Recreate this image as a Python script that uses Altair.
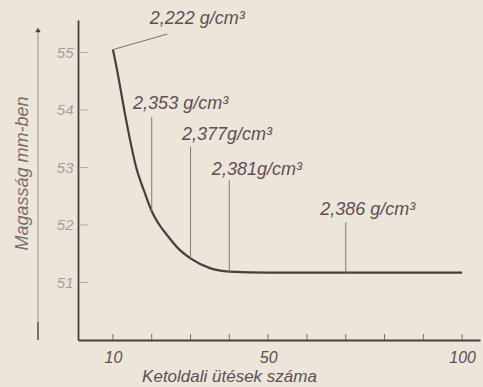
import altair as alt
import pandas as pd

# curve: height (mm) vs number of blows
blows = [10, 11, 12, 13, 14, 16, 18, 20, 22, 24, 27, 30, 35, 40, 50, 60, 70, 80, 90, 100]
height = [55.05, 54.72, 54.35, 53.97, 53.62, 53.0, 52.6, 52.24, 52.0, 51.82, 51.58,
          51.42, 51.25, 51.19, 51.17, 51.17, 51.17, 51.17, 51.17, 51.17]

# density marker lines
mark_blows = [20, 30, 40, 70]
mark_top = [53.88, 53.36, 52.78, 52.05]
mark_bottom = [52.24, 51.42, 51.19, 51.17]

# density labels
label_text = ["2,222 g/cm³", "2,353 g/cm³", "2,377g/cm³", "2,381g/cm³", "2,386 g/cm³"]
label_x = [19.5, 15.2, 27.8, 35.5, 63.4]
label_y = [55.58, 54.10, 53.57, 52.96, 52.26]

# leader line for first label
leader_x = [10, 24]
leader_y = [55.05, 55.32]

x_tick_values = [10, 20, 30, 40, 50, 60, 70, 80, 90, 100]
x_label_values = [10, 50, 100]
y_tick_values = [51, 52, 53, 54, 55]

BG = "#ece5da"
INK = "#4d3b3e"
TEXT = "#5e4f52"
FAINT = "#a99f98"
FONT = "Liberation Sans"

xs = alt.Scale(domain=[1, 104.6], nice=False, zero=False)
ys = alt.Scale(domain=[50, 55.565], nice=False, zero=False)

x_axis = alt.Axis(
    values=x_label_values, title="Ketoldali ütések száma", ticks=False, grid=False,
    domainColor=INK, domainWidth=1.8, labelFont=FONT, labelFontStyle="italic",
    labelFontSize=16, labelColor=TEXT, labelPadding=9, labelFlush=False,
    titleFont=FONT, titleFontStyle="italic", titleFontWeight="normal",
    titleFontSize=17, titleColor=TEXT, titleX=151, titleY=36,
    titleAlign="center", titleBaseline="middle")
y_axis = alt.Axis(
    values=y_tick_values, title="Magasság mm-ben", ticks=False, grid=False,
    domainColor=INK, domainWidth=1.8, labelFont=FONT, labelFontStyle="italic",
    labelFontSize=15, labelColor=FAINT, labelPadding=5, labelFlush=False,
    titleFont=FONT, titleFontStyle="italic", titleFontWeight="normal",
    titleFontSize=18, titleColor="#7a6b6c", titleX=-56, titleY=153,
    titleAlign="center", titleBaseline="middle")

curve_df = pd.DataFrame({"x": blows, "y": height})
marks_df = pd.DataFrame({"x": mark_blows, "y": mark_top, "bottom": mark_bottom})
labels_df = pd.DataFrame({"x": label_x, "y": label_y, "t": label_text})
leader_df = pd.DataFrame({"x": leader_x, "y": leader_y})
xt_df = pd.DataFrame({"x": x_tick_values})
yt_df = pd.DataFrame({"y": y_tick_values})
one = pd.DataFrame({"a": [0]})

X = alt.X("x:Q", scale=xs, axis=x_axis)
Y = alt.Y("y:Q", scale=ys, axis=y_axis)

curve = alt.Chart(curve_df).mark_line(
    interpolate="monotone", color=INK, strokeWidth=2.2
).encode(x=X, y=Y)

vlines = alt.Chart(marks_df).mark_rule(color="#857a76", strokeWidth=1).encode(
    x=X, y=Y, y2="bottom:Q",
)

leader = alt.Chart(leader_df).mark_line(color="#7d7070", strokeWidth=1).encode(
    x=X, y=Y,
)

labels = alt.Chart(labels_df).mark_text(
    align="left", baseline="middle", font=FONT, fontStyle="italic",
    fontSize=18, color=TEXT
).encode(x=X, y=Y, text="t:N")

xticks = alt.Chart(xt_df).mark_rule(color="#7a6a6a", strokeWidth=1).encode(
    x=X, y=alt.value(320), y2=alt.value(314),
)

yticks = alt.Chart(yt_df).mark_rule(color="#b8aea7", strokeWidth=1).encode(
    y=Y, x=alt.value(2), x2=alt.value(10),
)

arrow_line = alt.Chart(one).mark_rule(color="#9a8f8a", strokeWidth=1).encode(
    x=alt.value(-40), y=alt.value(10), y2=alt.value(320),
)
arrow_base = alt.Chart(one).mark_rule(color="#6a5558", strokeWidth=1.5).encode(
    x=alt.value(-40), y=alt.value(302), y2=alt.value(320),
)
arrow_head = alt.Chart(one).mark_point(
    shape="triangle-up", filled=True, color="#4d3b3e", size=30, opacity=1
).encode(
    x=alt.value(-40), y=alt.value(10),
)

chart = alt.layer(
    curve, arrow_line, arrow_base, arrow_head, yticks, xticks, vlines, leader, labels
).properties(
    width=402, height=320,
    padding={"left": 78, "top": 20, "right": 3, "bottom": 47},
    autosize="none",
    background=BG,
).configure_view(stroke=None)

chart.save("out.html", embed_options={"renderer": "svg", "actions": False})
